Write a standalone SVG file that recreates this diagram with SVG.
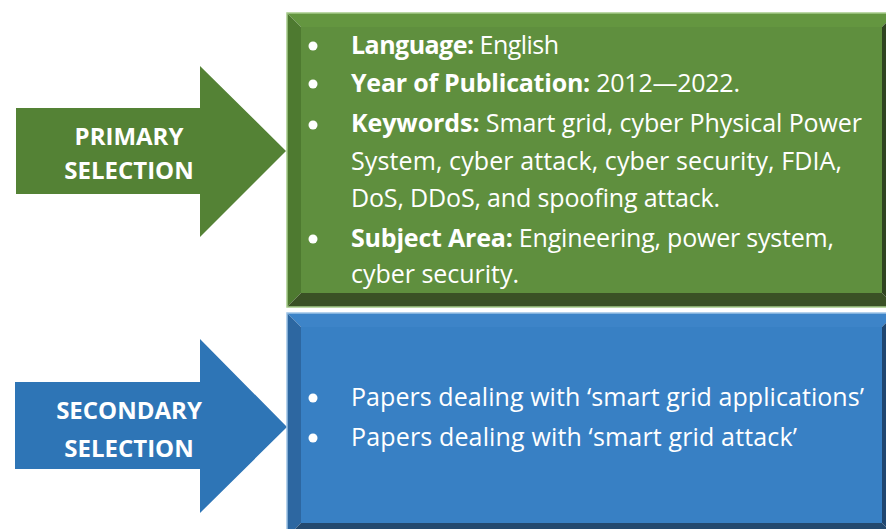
<svg xmlns="http://www.w3.org/2000/svg" width="886" height="529" viewBox="0 0 886 529">
<style>
.lbl{font-family:"Open Sans","Liberation Sans",sans-serif;font-weight:bold;font-size:24px;fill:#fff;text-anchor:middle}
.t{font-family:"Open Sans","Liberation Sans",sans-serif;font-size:25px;fill:#fff}
.b{font-weight:bold}
.dot{fill:#fff}
</style>
<rect width="886" height="529" fill="#fff"/>
<g id="primary-arrow">
<polygon points="16,108 200,108 200,66 286,151 200,237 200,194 16,194" fill="#548235"/>
<text class="lbl" x="129" y="145">PRIMARY</text>
<text class="lbl" x="129" y="179">SELECTION</text>
</g>
<g id="primary-box">
<polygon points="287,13 896,13 882,27 301,27" fill="#649640"/>
<polygon points="287,13 301,27 301,293 287,307" fill="#4e7a30"/>
<polygon points="287,307 301,293 882,293 896,307" fill="#3a5125"/>
<polygon points="896,13 882,27 882,293 896,307" fill="#2f4420"/>
<rect x="301" y="27" width="581" height="266" fill="#5f8f3e"/>
<rect x="287" y="13" width="609" height="294" fill="none" stroke="#a6cc8a" stroke-width="1.5"/>
<circle class="dot" cx="313" cy="46" r="4.5"/>
<text class="t" x="351" y="54" textLength="208"><tspan class="b">Language:</tspan> English</text>
<circle class="dot" cx="313" cy="84" r="4.5"/>
<text class="t" x="351" y="92" textLength="389"><tspan class="b">Year of Publication:</tspan> 2012—2022.</text>
<circle class="dot" cx="313" cy="125" r="4.5"/>
<text class="t" x="351" y="132" textLength="511"><tspan class="b">Keywords:</tspan> Smart grid, cyber Physical Power</text>
<text class="t" x="351" y="170" textLength="491">System, cyber attack, cyber security, FDIA,</text>
<text class="t" x="351" y="207" textLength="369">DoS, DDoS, and spoofing attack.</text>
<circle class="dot" cx="313" cy="239" r="4.5"/>
<text class="t" x="351" y="247" textLength="483"><tspan class="b">Subject Area:</tspan> Engineering, power system,</text>
<text class="t" x="351" y="283" textLength="168">cyber security.</text>
</g>
<g id="secondary-arrow">
<polygon points="15,382 200,382 200,339 287,427 200,513 200,469 15,469" fill="#2e75b6"/>
<text class="lbl" x="129" y="419">SECONDARY</text>
<text class="lbl" x="129" y="457">SELECTION</text>
</g>
<g id="secondary-box">
<polygon points="287,313 896,313 882,327 301,327" fill="#3d84c8"/>
<polygon points="287,313 301,327 301,523 287,537" fill="#2d67a1"/>
<polygon points="287,537 301,523 882,523 896,537" fill="#23496f"/>
<polygon points="896,313 882,327 882,523 896,537" fill="#1f4670"/>
<rect x="301" y="327" width="581" height="196" fill="#3880c4"/>
<rect x="287" y="313" width="609" height="224" fill="none" stroke="#9dc3e6" stroke-width="1.5"/>
<circle class="dot" cx="313" cy="398" r="4.5"/>
<text class="t" x="351" y="406" textLength="513">Papers dealing with ‘smart grid applications’</text>
<circle class="dot" cx="313" cy="438" r="4.5"/>
<text class="t" x="351" y="446" textLength="446">Papers dealing with ‘smart grid attack’</text>
</g>
<g id="connectors"/>
</svg>
